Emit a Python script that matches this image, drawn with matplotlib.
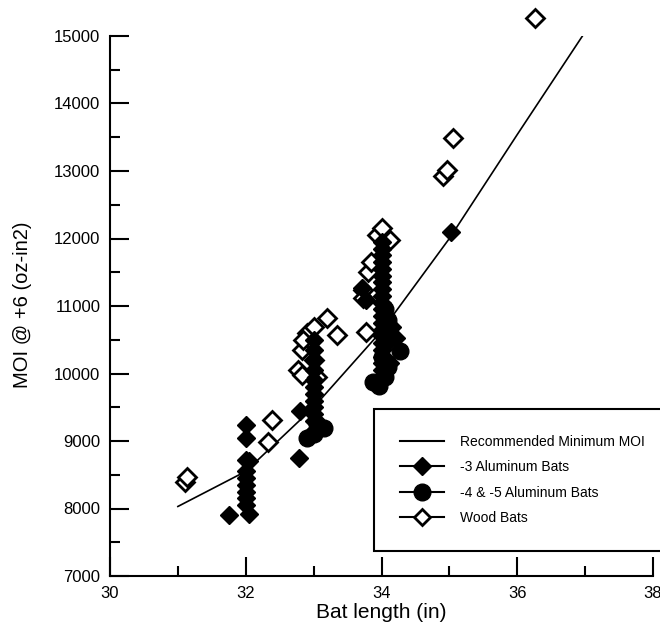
import numpy as np
import matplotlib
matplotlib.use("Agg")
import matplotlib.pyplot as plt
from matplotlib.lines import Line2D
from matplotlib.ticker import MultipleLocator

plt.rcParams['font.family'] = ['Liberation Sans', 'DejaVu Sans']

# recommended minimum MOI curve
rec_len = [31, 32, 33, 34, 35, 36, 37]
rec_moi = [8030, 8550, 9500, 10630, 12000, 13540, 15060]

# -3 aluminum bats
al3_len = [31.75, 32.0, 32.0, 32.0, 32.0, 32.0, 32.0, 32.0, 32.0, 32.0, 32.05, 32.05,
           32.78, 32.8,
           33.0, 33.0, 33.0, 33.0, 33.0, 33.0, 33.0, 33.0, 33.0, 33.0, 33.0, 33.0,
           33.72, 33.77,
           34.0, 34.0, 34.0, 34.0, 34.0, 34.0, 34.0, 34.0, 34.0, 34.0, 34.0,
           34.0, 34.0, 34.0, 34.0, 34.0, 34.0, 34.0, 34.0, 34.0, 34.0,
           34.15, 34.12, 34.22, 35.02]
al3_moi = [7900, 8050, 8150, 8250, 8350, 8450, 8550, 8720, 9040, 9240, 7920, 8700,
           8750, 9450,
           9150, 9300, 9400, 9500, 9600, 9700, 9800, 9900, 10050, 10200, 10350, 10500,
           11270, 11090,
           9950, 10050, 10150, 10250, 10350, 10450, 10550, 10650, 10750, 10850, 10950,
           11050, 11150, 11250, 11350, 11450, 11550, 11650, 11750, 11850, 11950,
           10690, 10150, 10530, 12100]

# -4 & -5 aluminum bats
al45_len = [32.9, 33.0, 33.15, 33.05, 33.88, 33.97, 34.05, 34.1, 34.27, 34.05, 34.1, 34.05, 34.0]
al45_moi = [9040, 9100, 9200, 9250, 9870, 9810, 9950, 10100, 10330, 10450, 10800, 10950, 10250]

# wood bats
wood_len = [31.1, 31.13, 32.33, 32.39, 32.77, 32.83, 32.83, 32.9, 32.85, 33.0, 33.05, 33.0,
            33.2, 33.34, 33.77, 33.73, 33.73, 33.8, 33.85, 33.93, 34.0, 34.12,
            34.9, 34.97, 35.05, 36.26]
wood_moi = [8400, 8470, 8990, 9310, 10050, 9980, 10350, 10600, 10500, 10690, 9950, 10200,
            10820, 10570, 10620, 11240, 11120, 11500, 11650, 12050, 12160, 11980,
            12920, 13010, 13490, 15270]

fig = plt.figure(figsize=(6.6, 6.25), dpi=100)
ax = fig.add_axes([110/660, 49/625, 543/660, 540/625])

ax.plot(rec_len, rec_moi, color='k', lw=1.2, zorder=2)
ax.plot(wood_len, wood_moi, ls='none', marker='D', ms=9.5, mfc='white', mec='k',
        mew=2, clip_on=False, zorder=3)
ax.plot(al3_len, al3_moi, ls='none', marker='D', ms=9.5, mfc='k', mec='k',
        clip_on=False, zorder=4)
ax.plot(al45_len, al45_moi, ls='none', marker='o', ms=12, mfc='k', mec='k',
        clip_on=False, zorder=5)

ax.set_xlim(30, 38)
ax.set_ylim(7000, 15000)
ax.xaxis.set_major_locator(MultipleLocator(2))
ax.xaxis.set_minor_locator(MultipleLocator(1))
ax.yaxis.set_major_locator(MultipleLocator(1000))
ax.yaxis.set_minor_locator(MultipleLocator(500))
ax.tick_params(which='major', direction='in', length=14, width=1.5, labelsize=12, pad=7)
ax.tick_params(which='minor', direction='in', length=7, width=1.5)
for s in ['top', 'right']:
    ax.spines[s].set_visible(False)
for s in ['left', 'bottom']:
    ax.spines[s].set_linewidth(1.5)

fig.text(381/660, 1 - 613/625, 'Bat length (in)', fontsize=15, ha='center', va='center')
fig.text(23/660, 1 - 305/625, 'MOI @ +6 (oz-in2)', fontsize=14.5, rotation=90,
         ha='center', va='center')

handles = [
    Line2D([], [], color='k', lw=1.5),
    Line2D([], [], color='k', lw=1.5, marker='D', ms=9.5, mfc='k', mec='k'),
    Line2D([], [], color='k', lw=1.5, marker='o', ms=12, mfc='k', mec='k'),
    Line2D([], [], color='k', lw=1.5, marker='D', ms=8, mfc='white', mec='k', mew=2),
]
labels = ['Recommended Minimum MOI', '-3 Aluminum Bats', '-4 & -5 Aluminum Bats', 'Wood Bats']
leg = ax.legend(handles, labels, loc='upper left', mode='expand',
                bbox_to_anchor=(374/660, 0.0, 0.5, 1 - 409/625),
                bbox_transform=fig.transFigure, borderaxespad=0,
                fontsize=10, handlelength=3.2, handletextpad=1.15,
                labelspacing=0.83, borderpad=1.85, fancybox=False,
                edgecolor='k', framealpha=1)
leg.get_frame().set_linewidth(1.5)

fig.savefig('out.png', dpi=100)
